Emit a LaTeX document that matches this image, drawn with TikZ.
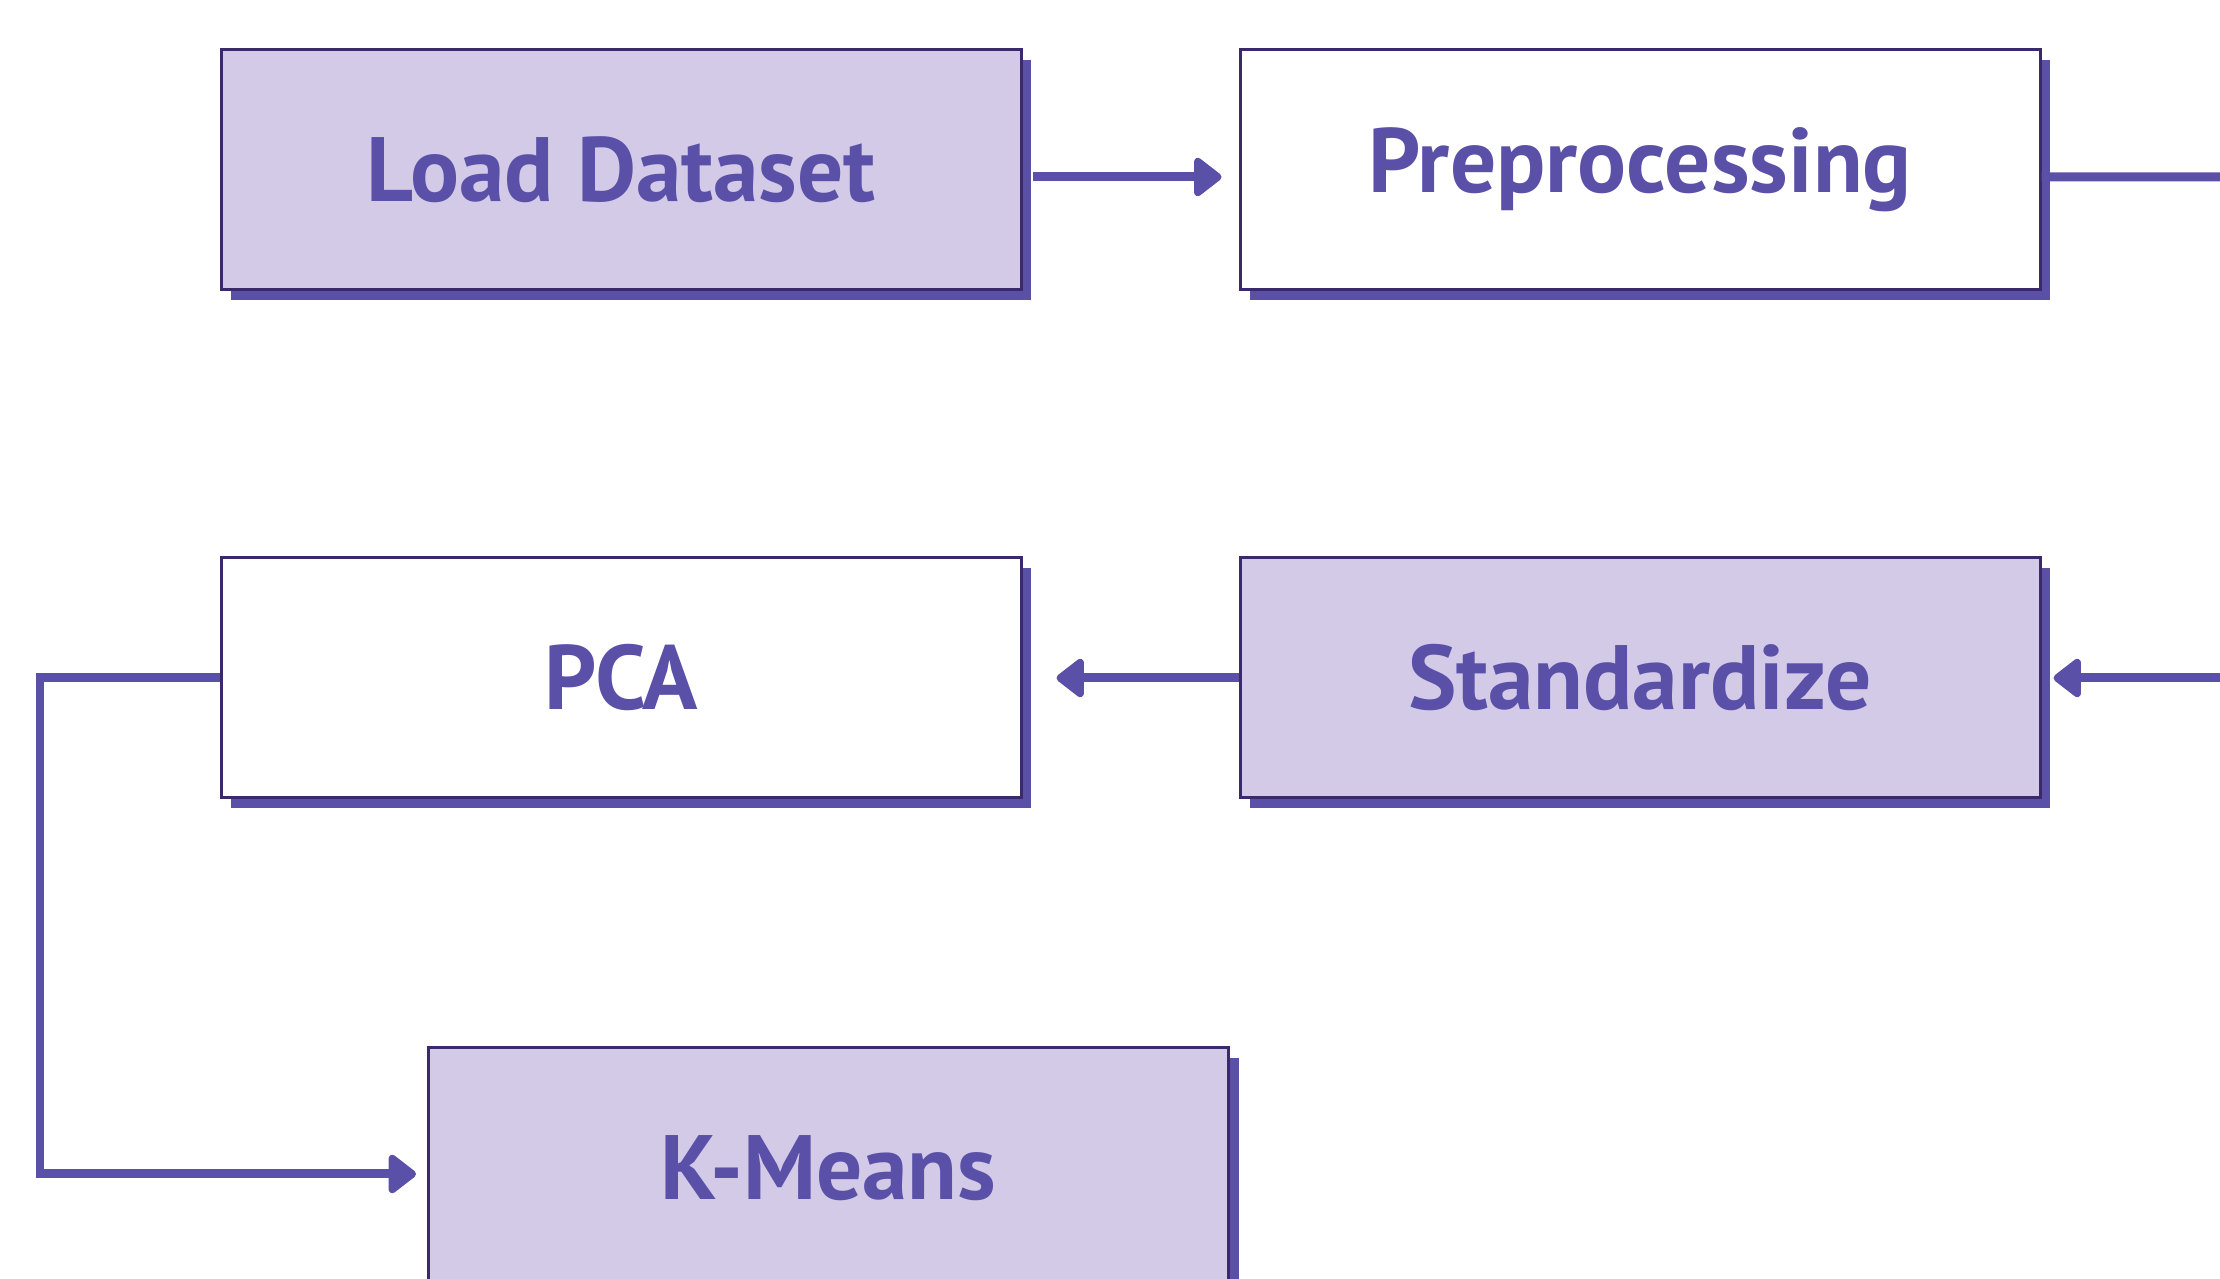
\documentclass[tikz,border=0pt]{standalone}
\usepackage{fontspec}
\setmainfont{PT Sans}
\usepackage{tikz}
\usetikzlibrary{arrows.meta,positioning,calc,shadows}

\definecolor{lavfill}{HTML}{D3CAE8}
\definecolor{violetc}{HTML}{5B50A8}
\definecolor{edgec}{HTML}{3B2A6B}

\tikzset{
  stage/.style={rectangle,draw=edgec,line width=0.03cm,minimum width=8cm,minimum height=2.4cm,
    text=violetc,font=\fontsize{26}{29}\selectfont\bfseries,
    drop shadow={shadow xshift=0.1cm,shadow yshift=-0.1cm,fill=violetc,opacity=1}},
  flow/.style={draw=violetc,line width=0.09cm,-{Triangle[length=0.3cm,width=0.44cm,round]}},
  plain/.style={draw=violetc,line width=0.09cm}
}

\begin{document}
\begin{tikzpicture}
\useasboundingbox (0,0) rectangle (22.2,12.79);
% pipeline stages
\foreach \name/\txt/\x/\y/\fl in {load/Load Dataset/6.21/11.09/lavfill,prep/Preprocessing/16.40/11.09/white,
  pca/PCA/6.21/6.01/white,std/Standardize/16.40/6.01/lavfill,km/K-Means/8.285/1.11/lavfill} {
  \node[stage,fill=\fl] (\name) at (\x,\y) {\txt};
}
% ends of the connectors
\coordinate (loadout) at ([yshift=-0.07cm]load.east);
\coordinate (prepin) at ([yshift=-0.07cm]prep.west);
\coordinate (prepout) at ([yshift=-0.07cm]prep.east);
\coordinate (outA) at (22.4,11.02);
\coordinate (outB) at (22.4,6.01);
\coordinate (stdin) at ([xshift=0.12cm]std.east);
\coordinate (bend) at (0.40,6.01);
\coordinate (kmin) at ([yshift=-0.06cm]km.west);

\draw[flow,shorten <=0.1cm,shorten >=0.17cm] (loadout) -- (prepin);
\draw[plain] (prepout) -- (outA);
\draw[flow] (outB) -- (stdin);
\draw[flow,shorten >=0.34cm] (std.west) -- (pca.east);
\draw[flow,shorten >=0.11cm] (pca.west) -- (bend) |- (kmin);
\end{tikzpicture}
\end{document}
